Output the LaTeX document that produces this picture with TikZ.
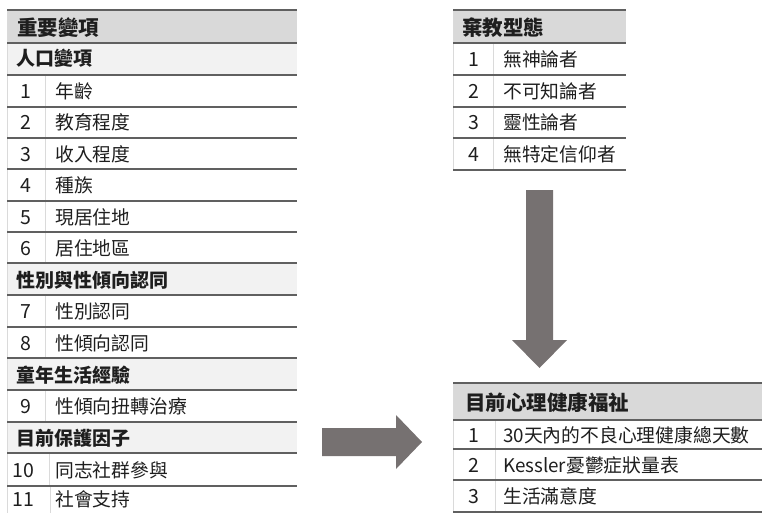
\documentclass[tikz,border=0pt]{standalone}
\usepackage{fontspec}
\setmainfont{Noto Sans CJK TC}
\definecolor{hdrfill}{HTML}{D9D9D9}
\definecolor{subfill}{HTML}{F2F2F2}
\definecolor{rulec}{HTML}{606060}
\definecolor{vlinec}{HTML}{DADADA}
\definecolor{arrowc}{HTML}{767171}
\definecolor{textc}{HTML}{1E1E1E}
\tikzset{
  hd/.style={anchor=base west, inner sep=0pt, text=textc, font=\fontsize{20.5}{20.5}\selectfont\bfseries},
  sb/.style={anchor=base west, inner sep=0pt, text=textc, font=\fontsize{19}{19}\selectfont\bfseries},
  num/.style={anchor=base, inner sep=0pt, text=textc, font=\fontsize{19.5}{19.5}\selectfont},
  txt/.style={anchor=base west, inner sep=0pt, text=textc, font=\fontsize{18.8}{18.8}\selectfont},
  hrule/.style={draw=rulec, line width=1.6pt},
  vrule/.style={draw=vlinec, line width=0.8pt},
  blockarrow/.style={fill=arrowc, draw=none}
}
\newcommand\trow[6]{\node[num] (#1n) at (#2,#4) {#5};\node[txt] (#1t) at (#3,#4) {#6};}
\begin{document}
\begin{tikzpicture}[x=1pt,y=-1pt]
\useasboundingbox (0,0) rectangle (762,513);
% ---------- left table ----------
\fill[hdrfill] (7,10) rectangle (297,43);
\foreach \a/\b in {43/75,263/295,358/390,422/453}
  \fill[subfill] (7,\a) rectangle (297,\b);
\draw[vrule] (7,10) -- (7,513);
\draw[vrule] (45,75) -- (45,263);
\draw[vrule] (45,295) -- (45,358);
\draw[vrule] (45,390) -- (45,422);
\draw[vrule] (49,453) -- (49,486);
\draw[vrule] (50,486) -- (50,513);
\foreach \y in {10,43,75,107,138,169,201,232,263,295,327,358,390,422,453,486}
  \draw[hrule] (7,\y) -- (297,\y);
\node[hd] (Lh) at (17,35.3) {重要變項};
\node[sb] (Ls1) at (16,66) {人口變項};
\trow{L1}{26}{55}{98.5}{1}{年齡}
\trow{L2}{26}{55}{130}{2}{教育程度}
\trow{L3}{26}{55}{161}{3}{收入程度}
\trow{L4}{26}{55}{192.5}{4}{種族}
\trow{L5}{26}{55}{224}{5}{現居住地}
\trow{L6}{26}{55}{255}{6}{居住地區}
\node[sb] (Ls2) at (16,287) {性別與性傾向認同};
\trow{L7}{26}{55}{318.5}{7}{性別認同}
\trow{L8}{26}{55}{350}{8}{性傾向認同}
\node[sb] (Ls3) at (16,382) {童年生活經驗};
\trow{L9}{26}{55}{413.5}{9}{性傾向扭轉治療}
\node[sb] (Ls4) at (16,445.5) {目前保護因子};
\trow{L10}{23}{55}{477}{10}{同志社群參與}
\trow{L11}{23}{55}{506}{11}{社會支持}
% ---------- top right table ----------
\fill[hdrfill] (453,10) rectangle (626,43);
\draw[vrule] (453,10) -- (453,170);
\draw[vrule] (493,43) -- (493,170);
\foreach \y in {10,43,75,107,138,170}
  \draw[hrule] (453,\y) -- (626,\y);
\node[hd] (Th) at (462,36) {棄教型態};
\trow{T1}{474}{503}{66.5}{1}{無神論者}
\trow{T2}{474}{503}{98.5}{2}{不可知論者}
\trow{T3}{474}{503}{130}{3}{靈性論者}
\trow{T4}{474}{503}{161.5}{4}{無特定信仰者}
% ---------- bottom right table ----------
\fill[hdrfill] (453,383) rectangle (762,420);
\draw[vrule] (453,383) -- (453,512);
\draw[vrule] (495,420) -- (495,512);
\foreach \y in {383,420,449,480,512}
  \draw[hrule] (453,\y) -- (762,\y);
\node[hd] (Bh) at (465,410.5) {目前心理健康福祉};
\trow{B1}{474}{503}{442}{1}{30天內的不良心理健康總天數}
\trow{B2}{474}{503}{472}{2}{Kessler憂鬱症狀量表}
\trow{B3}{474}{503}{503.5}{3}{生活滿意度}
% ---------- block arrows ----------
\coordinate (dTip) at (539.5,368);
\coordinate (rTip) at (422,442);
\fill[blockarrow] (526,190) -- (553,190) -- (553,340) -- (567,340) -- (dTip) -- (512,340) -- (526,340) -- cycle;
\fill[blockarrow] (322,428) -- (396,428) -- (396,415) -- (rTip) -- (396,469) -- (396,456) -- (322,456) -- cycle;
\end{tikzpicture}
\end{document}
